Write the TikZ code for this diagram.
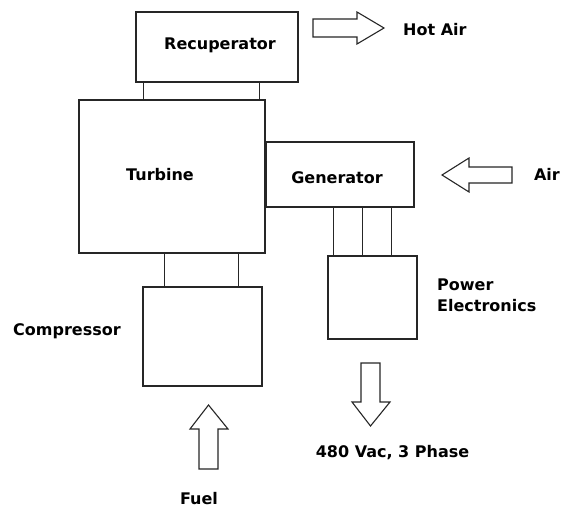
\documentclass[tikz,border=0pt]{standalone}
\usepackage{fontspec}
\setmainfont{DejaVu Sans}
\begin{document}
\begin{tikzpicture}[x=1pt,y=-1pt,
  box/.style={draw=black!85, line width=1.4pt, fill=white, inner sep=0pt},
  lbl/.style={font=\fontsize{16}{21}\selectfont\bfseries, inner sep=0pt, text=black},
  link/.style={draw=black!85, line width=1.4pt},
  blockarrow/.style={draw=black!85, line width=1.1pt, line join=miter, fill=white}]
\useasboundingbox (0,0) rectangle (561,508);
% boxes
\node[box, minimum width=162pt, minimum height=70pt] (rec) at (217,47) {};
\node[box, minimum width=186pt, minimum height=153pt] (turb) at (172,176.5) {};
\node[box, minimum width=148pt, minimum height=65pt] (gen) at (340,174.5) {};
\node[box, minimum width=119pt, minimum height=99pt] (comp) at (202.5,336.5) {};
\node[box, minimum width=89pt, minimum height=83pt] (pe) at (372.5,297.5) {};
% labels in boxes
\node[lbl] (trec) at (220,45) {Recuperator};
\node[lbl] (tturb) at (160,175) {Turbine};
\node[lbl] (tgen) at (337,178) {Generator};
% outside labels
\node[lbl, anchor=west] (thot) at (403,30) {Hot Air};
\node[lbl, anchor=east] (tair) at (560,174) {Air};
\node[lbl, anchor=west] (tcomp) at (13,331) {Compressor};
\node[lbl, anchor=west, align=left] (tpe) at (437,295.5) {Power\\Electronics};
\node[lbl] (tvac) at (392.5,453) {480 Vac, 3 Phase};
\node[lbl] (tfuel) at (199,499) {Fuel};
% connectors recuperator - turbine
\draw[link] ([xshift=8pt]rec.south west) -- ([xshift=8pt]rec.south west |- turb.north);
\draw[link] ([xshift=124pt]rec.south west) -- ([xshift=124pt]rec.south west |- turb.north);
% connectors turbine - compressor
\draw[link] ([xshift=22pt]comp.north west) -- ([xshift=22pt]comp.north west |- turb.south);
\draw[link] ([xshift=96pt]comp.north west) -- ([xshift=96pt]comp.north west |- turb.south);
% connectors generator - power electronics
\draw[link] ([xshift=6pt]pe.north west) -- ([xshift=6pt]pe.north west |- gen.south);
\draw[link] ([xshift=35pt]pe.north west) -- ([xshift=35pt]pe.north west |- gen.south);
\draw[link] ([xshift=64pt]pe.north west) -- ([xshift=64pt]pe.north west |- gen.south);
% block arrows
\draw[blockarrow] (313,19) -- (357,19) -- (357,12) -- (384,28) -- (357,44) -- (357,37) -- (313,37) -- cycle;
\draw[blockarrow] (512,167) -- (469,167) -- (469,158) -- (442,175) -- (469,192) -- (469,183) -- (512,183) -- cycle;
\draw[blockarrow] (199,469) -- (199,429) -- (190,429) -- (208.5,405) -- (228,429) -- (218,429) -- (218,469) -- cycle;
\draw[blockarrow] (361,363) -- (361,402) -- (352,402) -- (370.5,426) -- (390,402) -- (380,402) -- (380,363) -- cycle;
\end{tikzpicture}
\end{document}
